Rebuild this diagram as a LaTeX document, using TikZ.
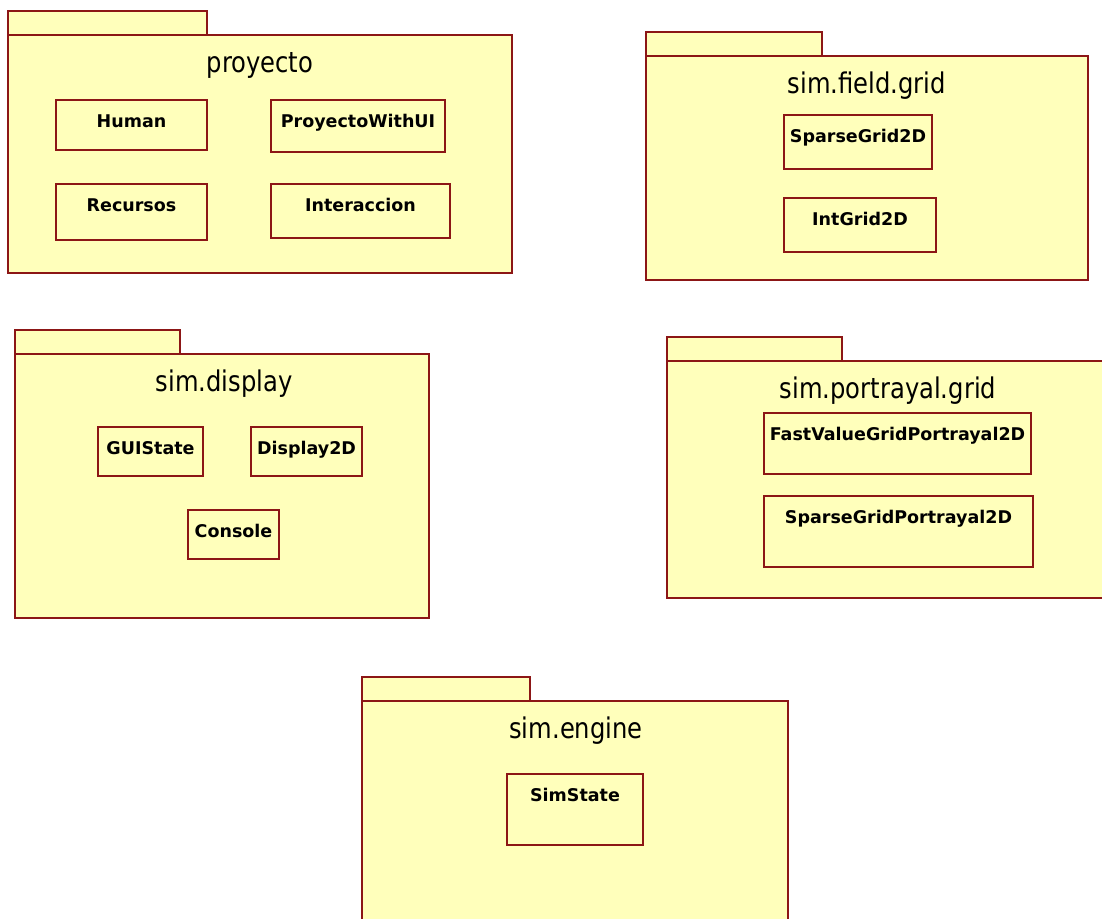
\documentclass[tikz,border=0pt]{standalone}
\usepackage{fontspec}
\setmainfont{DejaVu Sans}
\newfontfamily\pkgfont[FakeStretch=0.85]{DejaVu Sans}
\usepackage{tikz}
\usetikzlibrary{positioning}
\usepackage{xcolor}
\definecolor{umlfill}{HTML}{FFFFBB}
\definecolor{umlline}{HTML}{8C1616}

\begin{document}
\begin{tikzpicture}[x=1pt, y=-1pt,
      pkg/.style={draw=umlline, fill=umlfill, line width=1.8pt},
      pkgtitle/.style={anchor=base, inner sep=0pt, font=\pkgfont\fontsize{28.5}{30}\selectfont},
      cls/.style={draw=umlline, fill=umlfill, line width=1.8pt, anchor=north west,
                  inner sep=0pt, outer sep=0pt},
      lbl/.style={anchor=base, yshift=-27pt, inner sep=0pt,
                  font=\bfseries\fontsize{17.5}{19}\selectfont}
    ]
      \clip (0,0) rectangle (1102,918);
      \fill[white] (0,0) rectangle (1102,918);

      % proyecto
      \draw[pkg] (8,11) rectangle (207,35);
      \draw[pkg] (8,35) rectangle (512,273);
      \node[pkgtitle] (tProyecto) at (260,72) {proyecto};
      \node[cls, minimum width=151pt, minimum height=50pt, label={[lbl]north:Human}] (human) at (56,100) {};
      \node[cls, minimum width=174pt, minimum height=52pt, label={[lbl]north:ProyectoWithUI}] (withUI) at (271,100) {};
      \node[cls, minimum width=151pt, minimum height=56pt, label={[lbl]north:Recursos}] (recursos) at (56,184) {};
      \node[cls, minimum width=179pt, minimum height=54pt, label={[lbl]north:Interaccion}] (interaccion) at (271,184) {};

      % sim.field.grid
      \draw[pkg] (646,32) rectangle (822,56);
      \draw[pkg] (646,56) rectangle (1088,280);
      \node[pkgtitle] (tField) at (867,93) {sim.field.grid};
      \node[cls, minimum width=148pt, minimum height=54pt, label={[lbl]north:SparseGrid2D}] (sparseGrid) at (784,115) {};
      \node[cls, minimum width=152pt, minimum height=54pt, label={[lbl]north:IntGrid2D}] (intGrid) at (784,198) {};

      % sim.display
      \draw[pkg] (15,330) rectangle (180,354);
      \draw[pkg] (15,354) rectangle (429,618);
      \node[pkgtitle] (tDisplay) at (224,391) {sim.display};
      \node[cls, minimum width=105pt, minimum height=49pt, label={[lbl]north:GUIState}] (guiState) at (98,427) {};
      \node[cls, minimum width=111pt, minimum height=49pt, label={[lbl]north:Display2D}] (display) at (251,427) {};
      \node[cls, minimum width=91pt, minimum height=49pt, label={[lbl]north:Console}] (console) at (188,510) {};

      % sim.portrayal.grid
      \draw[pkg] (667,337) rectangle (842,361);
      \draw[pkg] (667,361) rectangle (1110,598);
      \node[pkgtitle] (tPortrayal) at (888,398) {sim.portrayal.grid};
      \node[cls, minimum width=267pt, minimum height=61pt, label={[lbl]north:FastValueGridPortrayal2D}] (fastValue) at (764,413) {};
      \node[cls, minimum width=269pt, minimum height=71pt, label={[lbl]north:SparseGridPortrayal2D}] (sparsePortrayal) at (764,496) {};

      % sim.engine
      \draw[pkg] (362,677) rectangle (530,701);
      \draw[pkg] (362,701) rectangle (788,930);
      \node[pkgtitle] (tEngine) at (576,738) {sim.engine};
      \node[cls, minimum width=136pt, minimum height=71pt, label={[lbl]north:SimState}] (simState) at (507,774) {};
    \end{tikzpicture}
\end{document}
